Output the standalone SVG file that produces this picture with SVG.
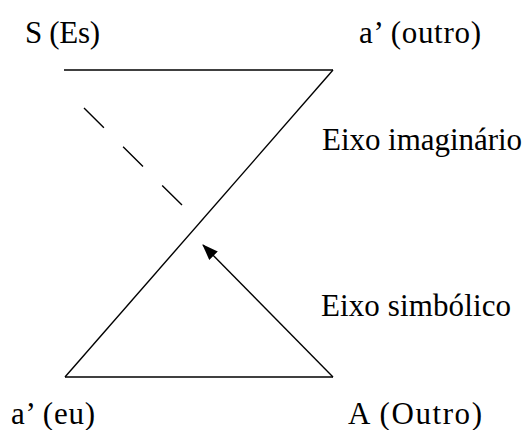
<svg xmlns="http://www.w3.org/2000/svg" width="528" height="430" viewBox="0 0 528 430">
<style>
.t{font-family:'Liberation Serif','Times New Roman',serif;font-size:31px;fill:#000}
.l{stroke:#000;stroke-width:1.4;fill:none}
</style>
<defs>
<marker id="ah" markerWidth="16" markerHeight="12" refX="15" refY="6" orient="auto" markerUnits="userSpaceOnUse">
<path d="M0,0 L16,6 L0,12 Z" fill="#000"/>
</marker>
</defs>
<rect width="528" height="430" fill="#fff"/>
<g id="connectors">
<line class="l" x1="64" y1="70" x2="333" y2="70"/>
<line class="l" x1="333" y1="70" x2="65" y2="377"/>
<line class="l" x1="65" y1="377" x2="333" y2="377"/>
<line class="l" x1="333" y1="377" x2="203" y2="245" marker-end="url(#ah)"/>
<line class="l" x1="84" y1="108" x2="182" y2="205" stroke-dasharray="28 27"/>
</g>
<g id="S"><text class="t" x="25" y="43" textLength="75" lengthAdjust="spacing">S (Es)</text></g>
<g id="a-outro"><text class="t" x="359" y="43" textLength="122" lengthAdjust="spacing">a’ (outro)</text></g>
<g id="eixo-imag"><text class="t" x="322" y="150" textLength="200" lengthAdjust="spacing">Eixo imaginário</text></g>
<g id="eixo-simb"><text class="t" x="321" y="316" textLength="190" lengthAdjust="spacing">Eixo simbólico</text></g>
<g id="a-eu"><text class="t" x="11" y="424" textLength="84" lengthAdjust="spacing">a’ (eu)</text></g>
<g id="A-Outro"><text class="t" x="348" y="424" textLength="134" lengthAdjust="spacing">A (Outro)</text></g>
</svg>
